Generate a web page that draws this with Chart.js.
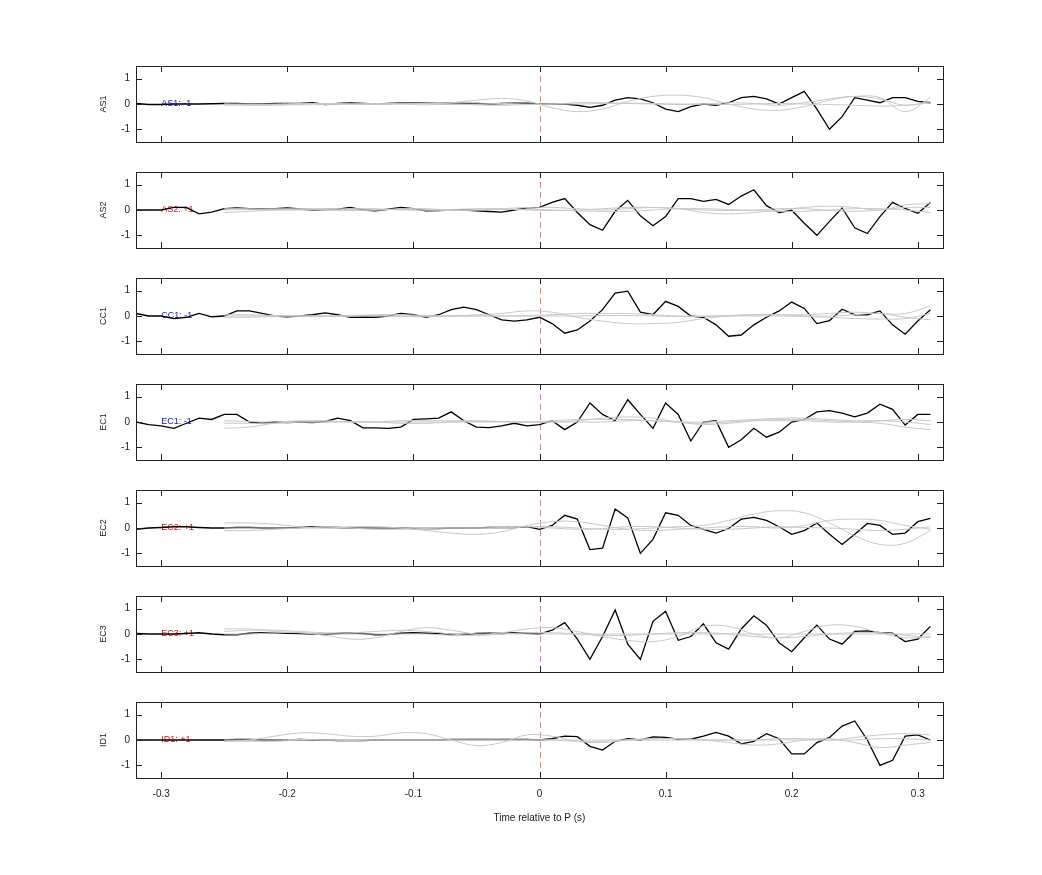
<!DOCTYPE html>
<html>
<head>
<meta charset="utf-8">
<script src="https://cdn.jsdelivr.net/npm/chart.js@4/dist/chart.umd.min.js"></script>
<style>
  body { margin: 0; background: #fff; width: 1042px; height: 875px; position: relative; overflow: hidden; }
  canvas { position: absolute; left: 0; }
</style>
</head>
<body>
<script>
// station names and the polarity labels
const stations = ['AS1', 'AS2', 'CC1', 'EC1', 'EC2', 'EC3', 'ID1'];
const polarity = ['-1', '+1', '-1', '-1', '+1', '+1', '+1'];
const xTicks = [-0.3, -0.2, -0.1, 0, 0.1, 0.2, 0.3];
const yTicks = [-1, 0, 1];

const timeX = [-0.32,-0.31,-0.30,-0.29,-0.28,-0.27,-0.26,-0.25,-0.24,-0.23,-0.22,-0.21,-0.20,-0.19,-0.18,-0.17,
  -0.16,-0.15,-0.14,-0.13,-0.12,-0.11,-0.10,-0.09,-0.08,-0.07,-0.06,-0.05,-0.04,-0.03,-0.02,-0.01,
  0.00,0.01,0.02,0.03,0.04,0.05,0.06,0.07,0.08,0.09,0.10,0.11,0.12,0.13,0.14,0.15,
  0.16,0.17,0.18,0.19,0.20,0.21,0.22,0.23,0.24,0.25,0.26,0.27,0.28,0.29,0.30,0.31];
const grayX = [-0.25,-0.23,-0.21,-0.19,-0.17,-0.15,-0.13,-0.11,-0.09,-0.07,-0.05,-0.03,-0.01,
  0.01,0.03,0.05,0.07,0.09,0.11,0.13,0.15,0.17,0.19,0.21,0.23,0.25,0.27,0.29,0.31];

// observed traces (black)
const as1 = [0.02,-0.02,-0.02,0,0,0,0.01,0.02,0.02,0,0,0.02,0.02,0.02,0.05,-0.02,0.02,0.04,0.02,0,0.02,0.04,0.04,0.03,0.02,0.03,0.02,0.02,0,0.02,0.03,0.03,
  0,0,0,-0.05,-0.13,-0.05,0.15,0.25,0.2,0.05,-0.2,-0.3,-0.1,0,-0.05,0.05,0.25,0.3,0.2,0,0.25,0.5,-0.2,-1.0,-0.5,0.25,0.15,0.05,0.25,0.25,0.1,0.05];
const as2 = [0,0,0,0.1,0.1,-0.15,-0.08,0.05,0.08,0.05,0.05,0.05,0.08,0.04,0,0.02,0.03,0.1,0,-0.03,0.03,0.1,0.05,-0.03,-0.02,0,0,-0.03,-0.06,-0.08,0,0.08,
  0.1,0.3,0.45,-0.1,-0.58,-0.8,-0.05,0.38,-0.23,-0.62,-0.26,0.45,0.45,0.34,0.42,0.22,0.55,0.8,0.17,-0.1,-0.01,-0.52,-1.0,-0.45,0.08,-0.7,-0.93,-0.26,0.3,0.06,-0.13,0.3];
const cc1 = [0.1,0,0,-0.1,-0.05,0.1,-0.03,0,0.2,0.2,0.1,0,-0.03,0,0.05,0.12,0.05,-0.05,-0.04,-0.05,0,0.1,0.05,-0.05,0.05,0.25,0.35,0.25,0.05,-0.15,-0.2,-0.15,
  -0.05,-0.3,-0.68,-0.55,-0.2,0.25,0.9,0.98,0.15,0.05,0.58,0.38,0,-0.05,-0.35,-0.8,-0.75,-0.35,-0.05,0.2,0.55,0.3,-0.3,-0.18,0.27,0.05,0.05,0.2,-0.35,-0.72,-0.2,0.25];
const ec1 = [0,-0.1,-0.15,-0.25,-0.05,0.15,0.1,0.3,0.3,0,-0.05,0,-0.02,0,-0.02,0.02,0.15,0.05,-0.23,-0.23,-0.25,-0.2,0.1,0.12,0.15,0.4,0.05,-0.2,-0.22,-0.15,-0.05,-0.15,
  -0.1,0.05,-0.3,0,0.75,0.3,0.05,0.88,0.3,-0.25,0.75,0.3,-0.75,0,0.05,-1.0,-0.7,-0.25,-0.6,-0.4,0,0.1,0.4,0.45,0.35,0.2,0.35,0.7,0.5,-0.12,0.3,0.3];
const ec2 = [-0.05,0,0.02,0.05,0.05,0.02,0,0,0.02,0.02,0,0,0,0.02,0.05,0.03,0.02,0,0,0,0,0,-0.02,-0.02,-0.02,0,0,0,0.02,0.02,0.02,0.05,
  -0.05,0.1,0.5,0.35,-0.85,-0.8,0.75,0.4,-1.0,-0.45,0.6,0.5,0.1,-0.05,-0.2,-0.02,0.35,0.42,0.3,0.05,-0.25,-0.1,0.2,-0.25,-0.65,-0.25,0.18,0.1,-0.25,-0.2,0.25,0.38];
const ec3 = [0.02,0,0,0,0.02,0.05,0,-0.03,-0.03,0.03,0.05,0.05,0.03,0.02,0,-0.02,0.02,0.05,0.02,-0.03,-0.02,0.03,0.05,0.03,0.02,-0.02,-0.02,0.02,0.03,0.02,0.05,0.03,
  0,0.15,0.45,-0.2,-1.0,-0.1,0.95,-0.4,-1.0,0.5,0.9,-0.25,-0.1,0.4,-0.35,-0.6,0.2,0.72,0.35,-0.35,-0.7,-0.15,0.35,-0.2,-0.4,0.1,0.12,0.05,0.03,-0.3,-0.2,0.3];
const id1 = [0,0,0,0,0,0,0,0,0.02,0.02,0,0,0,0.02,0,0,-0.02,-0.02,-0.02,0,0,0,0,0,0,0.02,0.02,0.02,0.02,0.02,0.02,0.02,
  0,0.05,0.15,0.13,-0.25,-0.4,-0.05,0.05,0,0.12,0.1,0.03,0.03,0.15,0.3,0.15,-0.15,-0.05,0.25,0.05,-0.55,-0.55,-0.1,0.1,0.55,0.75,0,-1.0,-0.8,0.15,0.2,0];

// synthetic traces (gray), three per station
const as1Gray = [
  [0,0,-0.02,-0.03,-0.02,0,0.02,0,-0.03,0.05,0.15,0.22,0.12,-0.15,-0.3,-0.2,0.1,0.3,0.35,0.25,0,-0.2,-0.25,-0.1,0.15,0.3,0.25,-0.3,0.25],
  [0,-0.05,-0.05,0,0.02,0,-0.02,0,0.02,0,-0.03,-0.05,-0.02,0,0.05,0.05,0.02,0,-0.02,0,0.05,0.02,-0.05,0.05,0.2,0.3,0.2,-0.05,0.1],
  [-0.05,-0.03,0,0.02,0.02,0,0,0.03,0.02,0,0,0.02,0,0,0,0.02,0.03,0.02,0,0,-0.02,0,0.02,0,-0.02,-0.05,-0.08,-0.05,0.05]];
const as2Gray = [
  [-0.1,-0.05,0,0.05,0.05,0.02,0,0.05,0.05,0,0,0.05,0.1,0.1,0.05,0,0.05,0.1,0.05,-0.1,-0.15,-0.1,0,0.1,0.15,0.1,0,0.2,0.25],
  [0,0.03,0.05,0.03,0,-0.02,0,0.02,0,-0.02,0,0.02,0.03,0,-0.03,-0.05,-0.05,0,0.05,0.05,0.02,-0.02,-0.05,-0.05,0,0.05,0.05,0,-0.1],
  [0.05,0.05,0,0,0.02,0.05,0.05,0,0,0.02,0.05,0.05,0,-0.02,0,0.05,0.1,0.1,0.05,0,-0.02,0,0.05,0.05,-0.02,-0.05,0,0.1,0.1]];
const cc1Gray = [
  [0,0,0.02,0,-0.02,0,0.02,0,0,0,0.05,0.1,0.2,0.15,-0.05,-0.2,-0.3,-0.3,-0.25,-0.1,0,0.05,0.05,0.05,0.1,0.15,0.1,0.1,0.4],
  [0.05,0.05,0.02,0,0,0.02,0.05,0.05,0.02,0,0,0,0.02,0.05,0.1,0.1,0.1,0.05,0,0,0.02,0.05,0.05,0,0,0.05,0.1,-0.05,-0.15],
  [-0.05,-0.05,-0.02,0,0,0,0,-0.02,-0.03,0,0,0,0,0,0,0.02,0.02,0,-0.02,-0.02,0,0,0,-0.02,-0.05,-0.1,-0.12,-0.1,0.1]];
const ec1Gray = [
  [-0.25,-0.2,-0.05,0,0,0,0,-0.05,-0.05,0,0.02,0.02,0,0,0.05,0.15,0.2,0.15,0,-0.1,-0.05,0.05,0.1,0.1,0.05,0,-0.05,-0.2,-0.3],
  [-0.05,-0.05,-0.05,0,0,0.02,0,0,0,0,0,0,0,0.05,0.1,0.1,0.1,0.05,0,0,0.05,0.1,0.15,0.15,0.1,0.05,0.05,0,-0.1],
  [0.05,0.02,0,0.05,0.05,0,0,0.05,0.05,0.05,0.05,0.02,0,0,0,0,0.05,0.05,0,-0.05,0,0.05,0.05,0.05,0,0,0.05,0.1,0.05]];
const ec2Gray = [
  [0,0,0,0,0,0,0,0,0,0,0,0,0.05,0.05,0,-0.05,-0.05,0,0.05,0.1,0.3,0.55,0.68,0.6,0.2,-0.3,-0.65,-0.6,-0.1],
  [0.2,0.2,0.15,0.05,0,0.05,0.05,0,-0.1,-0.2,-0.25,-0.15,0.1,0.25,0.25,0.1,-0.05,-0.1,-0.05,0,0.05,0.05,0,0.1,0.3,0.35,0.3,0.1,-0.05],
  [-0.1,-0.1,-0.05,0,0.05,0,-0.05,-0.05,-0.02,0,0,0.02,0.05,0,-0.05,-0.02,0.05,0.05,0,-0.05,-0.05,0,0.05,0.02,0,-0.05,-0.1,-0.05,0.05]];
const ec3Gray = [
  [0.2,0.2,0.1,0.05,-0.05,-0.2,-0.15,0.1,0.25,0.15,0,0.05,0.2,0.25,0.1,-0.1,-0.25,-0.3,-0.1,0.3,0.3,0,-0.15,0.1,0.35,0.3,0.05,-0.15,-0.1],
  [0.1,0.15,0.15,0.1,0.05,0.05,0.1,0.15,0.1,0,-0.05,0,0.05,0.05,0,-0.05,-0.05,0,0.05,0.05,0,-0.1,-0.15,-0.1,0,0.05,0.05,-0.05,-0.15],
  [0,0,0.05,0.05,0,0,0,0,0,-0.05,-0.05,0,0,0,0,0,0,0,0,0,0,0,0,0,0,0,0,0,0]];
const id1Gray = [
  [-0.05,0,0.15,0.28,0.25,0.15,0.15,0.28,0.25,0,-0.22,-0.1,0.2,0.15,-0.05,-0.1,0,0.05,0.05,0,-0.1,-0.2,-0.15,0,0.05,-0.1,-0.3,-0.2,-0.1],
  [0,0,0,0.02,0,-0.02,0,0,0,0,0,0,0,0,-0.05,-0.05,0,0.05,0.05,0,0,0,0.05,0.05,0,0.1,0.2,0.25,0.2],
  [-0.05,-0.05,-0.05,0,0,0,0,0,0,0,0,0,0,0,0,0,0,0,0,0,0,0,0,0,0,0,0.05,0.05,0]];

const blackSeries = [as1, as2, cc1, ec1, ec2, ec3, id1];
const graySeries = [as1Gray, as2Gray, cc1Gray, ec1Gray, ec2Gray, ec3Gray, id1Gray];

const FONT = 'Helvetica, "Liberation Sans", Arial, sans-serif';

// box, inward ticks, zero marker, station label
const panelDecor = {
  id: 'panelDecor',
  beforeDatasetsDraw(chart, args, opts) {
    const { ctx, chartArea: a, scales: { x, y } } = chart;
    ctx.save();
    ctx.strokeStyle = '#f08080';
    ctx.lineWidth = 1;
    ctx.setLineDash([6, 4]);
    const x0 = Math.round(x.getPixelForValue(0)) + 0.5;
    ctx.beginPath(); ctx.moveTo(x0, a.top); ctx.lineTo(x0, a.bottom); ctx.stroke();
    ctx.setLineDash([]);
    ctx.font = '9px ' + FONT;
    ctx.fillStyle = opts.color;
    ctx.textBaseline = 'middle';
    ctx.fillText(opts.label, x.getPixelForValue(-0.3), y.getPixelForValue(0));
    ctx.restore();
  },
  afterDraw(chart, args, opts) {
    const { ctx, chartArea: a, scales: { x, y } } = chart;
    ctx.save();
    ctx.strokeStyle = '#222';
    ctx.lineWidth = 1;
    ctx.strokeRect(Math.round(a.left) + 0.5, Math.round(a.top) + 0.5, Math.round(a.width), Math.round(a.height));
    ctx.beginPath();
    xTicks.forEach(v => {
      const px = Math.round(x.getPixelForValue(v)) + 0.5;
      ctx.moveTo(px, a.bottom); ctx.lineTo(px, a.bottom - 6);
      ctx.moveTo(px, a.top); ctx.lineTo(px, a.top + 6);
    });
    yTicks.forEach(v => {
      const py = Math.round(y.getPixelForValue(v)) + 0.5;
      ctx.moveTo(a.left, py); ctx.lineTo(a.left + 6, py);
      ctx.moveTo(a.right, py); ctx.lineTo(a.right - 6, py);
    });
    ctx.stroke();
    ctx.translate(104, (a.top + a.bottom) / 2);
    ctx.rotate(-Math.PI / 2);
    ctx.font = '9px ' + FONT;
    ctx.fillStyle = '#222';
    ctx.textAlign = 'center';
    ctx.textBaseline = 'middle';
    ctx.fillText(opts.station, 0, 0);
    ctx.restore();
  }
};

stations.forEach((name, i) => {
  const last = i === stations.length - 1;
  const canvas = document.createElement('canvas');
  canvas.style.top = (last ? 690 : 54 + 106 * i) + 'px';
  canvas.style.width = '1042px';
  canvas.style.height = (last ? 138 : 100) + 'px';
  document.body.appendChild(canvas);

  const datasets = graySeries[i].map(g => ({
    data: grayX.map((t, k) => ({ x: t, y: g[k] })),
    borderColor: '#c8c8c8', borderWidth: 1, pointRadius: 0, tension: 0.4
  }));
  datasets.push({
    data: timeX.map((t, k) => ({ x: t, y: blackSeries[i][k] })),
    borderColor: '#000', borderWidth: 1.3, pointRadius: 0, tension: 0
  });

  new Chart(canvas, {
    type: 'line',
    data: { datasets },
    plugins: [panelDecor],
    options: {
      responsive: false,
      animation: false,
      layout: { padding: { left: 96, right: 99, top: 8, bottom: last ? 0 : 8 } },
      plugins: {
        legend: { display: false },
        tooltip: { enabled: false },
        panelDecor: { station: name, label: name + ': ' + polarity[i], color: polarity[i] === '-1' ? '#1010d0' : '#e01010' }
      },
      scales: {
        x: {
          type: 'linear', min: -0.32, max: 0.32,
          display: last,
          afterBuildTicks: s => { s.ticks = xTicks.map(v => ({ value: v })); },
          afterFit: s => { s.height = last ? 50 : 0; },
          grid: { display: false, drawTicks: false },
          border: { display: false },
          ticks: { padding: 10, font: { size: 10, family: FONT }, color: '#222', callback: v => String(v) },
          title: { display: true, text: 'Time relative to P (s)', font: { size: 10, family: FONT }, color: '#222', padding: { top: 4, bottom: 4 } }
        },
        y: {
          min: -1.5, max: 1.5,
          afterBuildTicks: s => { s.ticks = yTicks.map(v => ({ value: v })); },
          afterFit: s => { s.width = 40; },
          grid: { display: false, drawTicks: false },
          border: { display: false },
          ticks: { padding: 6, font: { size: 10, family: FONT }, color: '#222' }
        }
      }
    }
  });
});
</script>
</body>
</html>
